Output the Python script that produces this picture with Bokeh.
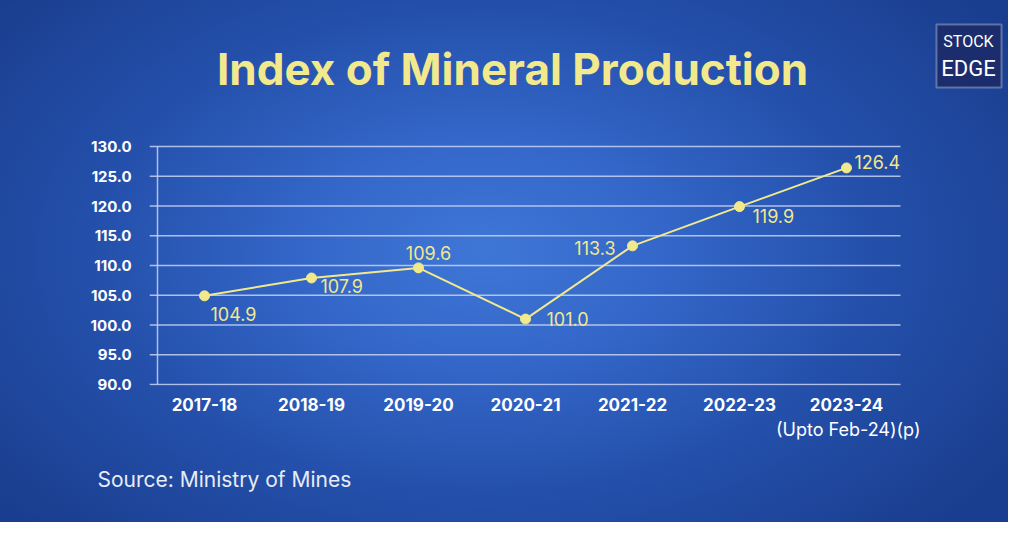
from bokeh.plotting import figure
from bokeh.models import Label, FixedTicker, ColumnDataSource, Range1d, Title, BoxAnnotation
from bokeh.core.properties import value
from bokeh.embed import file_html
from bokeh.resources import INLINE

# ---- data ----
years = ["2017-18", "2018-19", "2019-20", "2020-21", "2021-22", "2022-23", "2023-24"]
index_values = [104.9, 107.9, 109.6, 101.0, 113.3, 119.9, 126.4]
value_labels = ["104.9", "107.9", "109.6", "101.0", "113.3", "119.9", "126.4"]
y_ticks = [90, 95, 100, 105, 110, 115, 120, 125, 130]
y_tick_labels = ["90.0", "95.0", "100.0", "105.0", "110.0", "115.0", "120.0", "125.0", "130.0"]
title_text = "Index of Mineral Production"
source_text = "Source: Ministry of Mines"
footnote_text = "(Upto Feb-24)(p)"

# ---- layout / styling ----
W, H = 1008, 522
YELLOW = "#f2e88c"
GRID = "#c8d2f2"
FL, FB = 149, 385          # frame left / bottom (canvas px)
PX_X, PX_Y = 107.0, 5.95   # px per category / px per index point
X0 = -0.514                # left end of the category band
X1 = 6.505                 # right end of the category band (grid end)
Y0 = y_ticks[0] - 1 / PX_Y

def dx(px):  # canvas px -> data x
    return X0 + (px - FL) / PX_X

def dy(py):  # canvas px -> data y
    return Y0 + (FB - py) / PX_Y

x_pos = list(range(len(years)))

p = figure(width=W, height=H, output_backend="svg", toolbar_location=None,
           x_range=Range1d(X0, dx(W)), y_range=Range1d(Y0, dy(0)),
           min_border_left=FL, min_border_right=0, min_border_top=0,
           min_border_bottom=H - FB, title_location=None)
p.styles = {"background-image": "radial-gradient(ellipse 62% 75% at 48% 48%, #3f77d7 0%, #3366c8 30%, #2450ab 62%, #1a3e8f 100%)"}
p.background_fill_alpha = 0
p.border_fill_alpha = 0
p.outline_line_color = None

# axes
p.xaxis.ticker = FixedTicker(ticks=x_pos)
p.xaxis.major_label_overrides = {i: y for i, y in enumerate(years)}
p.yaxis.ticker = FixedTicker(ticks=y_ticks)
p.yaxis.major_label_overrides = {t: l for t, l in zip(y_ticks, y_tick_labels)}
for ax in (p.xaxis, p.yaxis):
    ax.axis_line_color = None
    ax.major_tick_line_color = None
    ax.minor_tick_line_color = None
    ax.major_label_text_color = "white"
    ax.major_label_text_font = "Inter"
    ax.major_label_text_font_style = "bold"
p.xaxis.major_label_text_font_size = "17px"
p.yaxis.major_label_text_font_size = "15px"
p.xaxis.major_label_standoff = 6
p.yaxis.major_label_standoff = 12
p.xgrid.visible = False
p.ygrid.visible = False

# horizontal grid lines (at the y ticks, across the category band) and the y axis line
n = len(y_ticks)
p.segment(x0=[X0] * n, y0=y_ticks, x1=[X1] * n, y1=y_ticks,
          line_color=GRID, line_width=1.5, line_alpha=0.85)
p.segment(x0=[dx(FL + 8)], y0=[y_ticks[0]], x1=[dx(FL + 8)], y1=[y_ticks[-1]],
          line_color=GRID, line_width=1.5, line_alpha=0.85)

# footnote and source under the x axis
p.add_layout(Title(text=footnote_text, align="right", offset=88, standoff=7,
                   text_font="Inter", text_font_size="18px", text_font_style="normal",
                   text_color="white"), "below")
p.add_layout(Title(text=source_text, align="left", offset=-52, standoff=42,
                   text_font="Inter", text_font_size="21px", text_font_style="normal",
                   text_color="#e8ecf5"), "below")

# data
src = ColumnDataSource(dict(
    x=x_pos, y=index_values, label=value_labels,
    dx=[6, 9, 10, 21, -17, 13, 8],
    dy=[18, 8, -15, 0, 2, 9, -6],
    align=["left", "left", "center", "left", "right", "left", "left"],
))
p.line("x", "y", source=src, line_color=YELLOW, line_width=2)
p.scatter("x", "y", source=src, size=10, fill_color=YELLOW, line_color=YELLOW)
p.text("x", "y", text="label", source=src, x_offset="dx", y_offset="dy",
       text_align="align", text_baseline="middle", text_color=YELLOW,
       text_font=value("Inter"), text_font_size="18px")

# labels (canvas px converted to frame-relative screen units)
def lab(x, y, text, size, color, font="Inter", style="normal"):
    l = Label(x=x - FL, y=FB - y, x_units="screen", y_units="screen", text=text,
              text_font=font, text_font_size=size, text_color=color,
              text_font_style=style, text_align="center", text_baseline="middle")
    p.add_layout(l)
    return l

lab(512, 68, title_text, "44px", YELLOW, style="bold")

# logo
p.add_layout(BoxAnnotation(left=dx(936), right=dx(1001), top=dy(24), bottom=dy(87),
                           fill_color="#1b2d6c", fill_alpha=1.0,
                           line_color="white", line_width=2))
lab(968, 41, "STOCK", "16px", "white", font="Roboto")
lab(968, 68, "EDGE", "22px", "white", font="Roboto")

open("out.html", "w").write(file_html(p, INLINE))
